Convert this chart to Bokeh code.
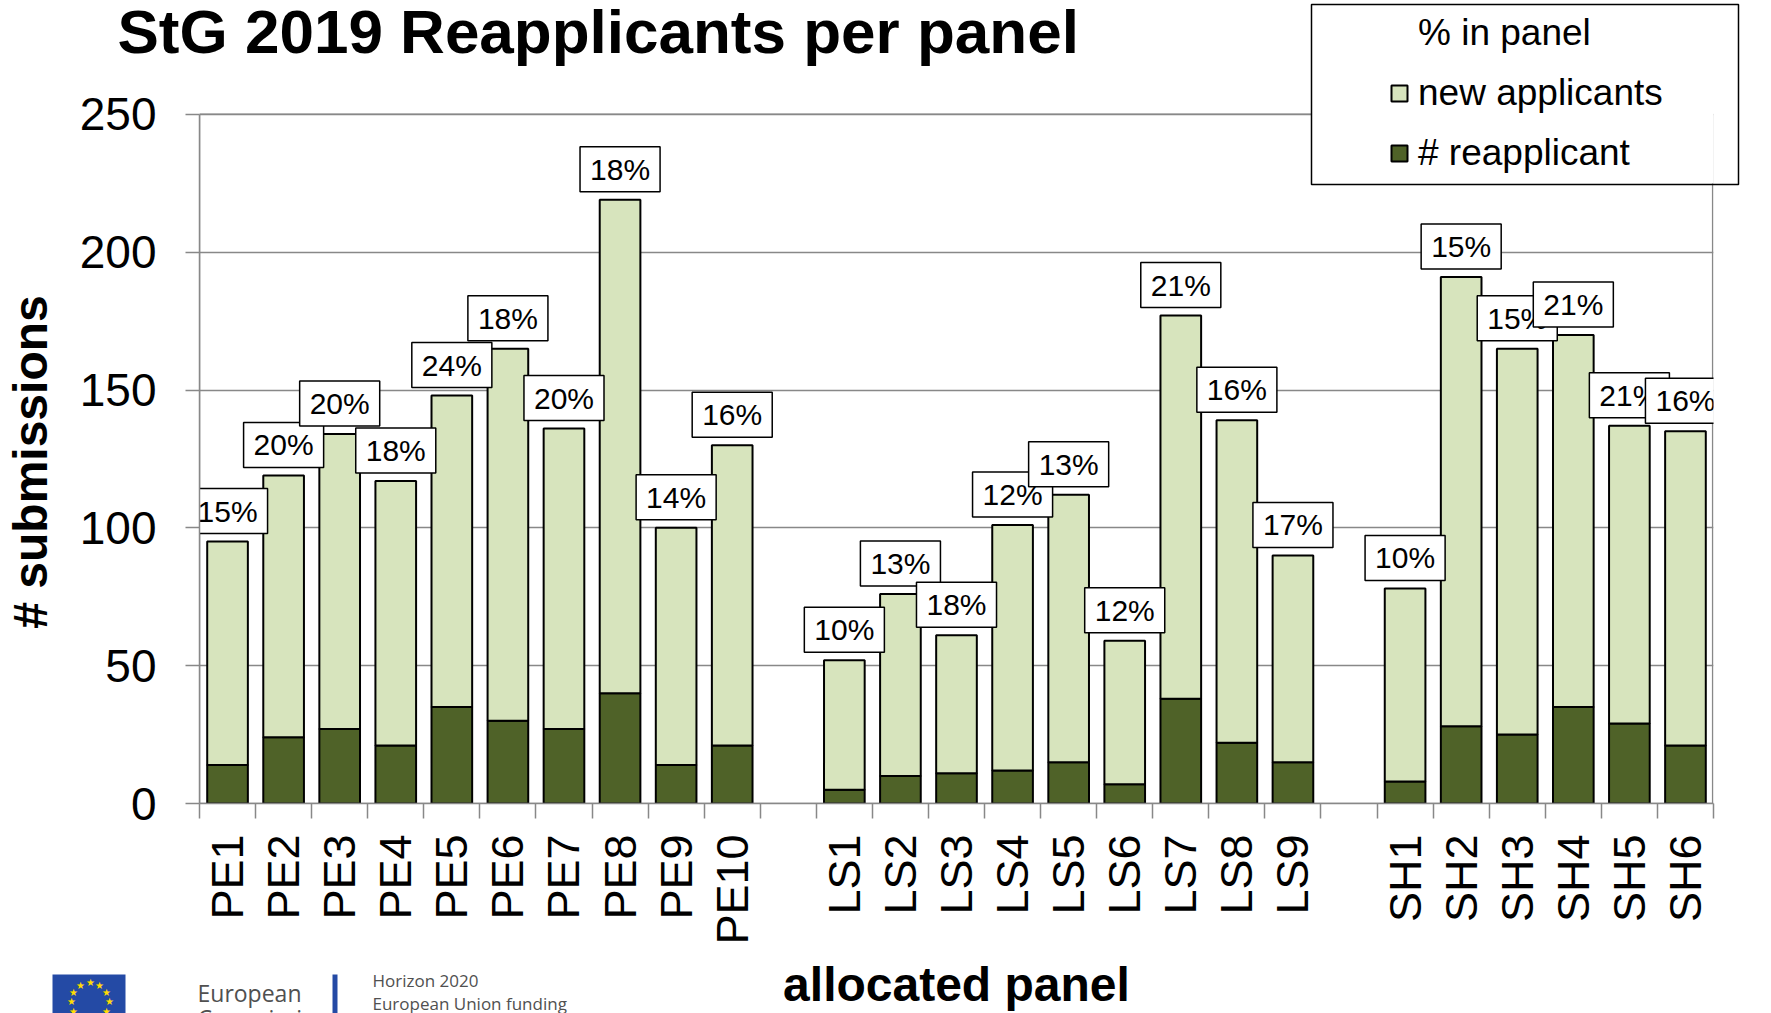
import math
from bokeh.plotting import figure
from bokeh.layouts import column
from bokeh.models import (ColumnDataSource, FactorRange, Range1d, LinearAxis, CategoricalAxis,
                          FixedTicker, Legend, LegendItem, Label, BoxAnnotation, GridBox)
from bokeh.core.properties import value
from bokeh.transform import stack
from bokeh.embed import file_html
from bokeh.resources import INLINE

# ---------------- data ----------------
panels_pe = ["PE1", "PE2", "PE3", "PE4", "PE5", "PE6", "PE7", "PE8", "PE9", "PE10"]
panels_ls = ["LS1", "LS2", "LS3", "LS4", "LS5", "LS6", "LS7", "LS8", "LS9"]
panels_sh = ["SH1", "SH2", "SH3", "SH4", "SH5", "SH6"]

reapplicants = [14, 24, 27, 21, 35, 30, 27, 40, 14, 21,
                5, 10, 11, 12, 15, 7, 38, 22, 15,
                8, 28, 25, 35, 29, 21]
new_applicants = [81, 95, 107, 96, 113, 135, 109, 179, 86, 109,
                  47, 66, 50, 89, 97, 52, 139, 117, 75,
                  70, 163, 140, 135, 108, 114]
pct_in_panel = ["15%", "20%", "20%", "18%", "24%", "18%", "20%", "18%", "14%", "16%",
                "10%", "13%", "18%", "12%", "13%", "12%", "21%", "16%", "17%",
                "10%", "15%", "15%", "21%", "21%", "16%"]
y_ticks = [0, 50, 100, 150, 200, 250]

panels = panels_pe + panels_ls + panels_sh
factors = panels_pe + [" "] + panels_ls + ["  "] + panels_sh

FONT = "Liberation Sans"
LIGHT = "#D7E4BD"
DARK = "#4F6228"
GRID = "#888888"
W, H = 1771, 1013
NBSP = "\u00a0"

src = ColumnDataSource(dict(panel=panels, reapp=reapplicants, new=new_applicants, pct=pct_in_panel))

# The frame reaches the top of the canvas so that the legend (which sits above the
# 250 line, as in the original) is not clipped; the axis itself stops at 250.
p = figure(x_range=FactorRange(factors=factors), y_range=Range1d(0, 291.3),
           width=W, height=H, output_backend="svg", toolbar_location=None,
           x_axis_location=None, title=None,
           min_border_left=199, min_border_right=58, min_border_top=0, min_border_bottom=209)
p.outline_line_color = None
p.background_fill_color = "white"
p.border_fill_color = "white"

# y axis
p.yaxis.ticker = FixedTicker(ticks=y_ticks)
p.yaxis.bounds = (y_ticks[0], y_ticks[-1])
p.yaxis.major_label_text_font = FONT
p.yaxis.major_label_text_font_size = "46px"
p.yaxis.major_label_text_color = "black"
p.yaxis.major_tick_out = 14
p.yaxis.major_tick_in = 0
p.yaxis.minor_tick_line_color = None
p.yaxis.axis_line_color = GRID
p.yaxis.axis_line_width = 1.5
p.yaxis.major_tick_line_color = GRID
p.yaxis.major_tick_line_width = 1.5
p.yaxis.major_label_standoff = 29
# trailing no-break spaces keep the label centred on the 0-250 axis, not on the taller frame
p.yaxis.axis_label = "# submissions" + NBSP * 9
p.yaxis.axis_label_text_font = FONT
p.yaxis.axis_label_text_font_size = "48px"
p.yaxis.axis_label_text_font_style = "bold"
p.yaxis.axis_label_text_color = "black"
p.yaxis.axis_label_standoff = 20

p.ygrid.grid_line_color = GRID
p.ygrid.grid_line_width = 1.5
p.xgrid.visible = False

# plot-area border (right edge; the top is the 250 grid line)
n_slots = len(factors)
p.add_layout(BoxAnnotation(left=0, right=n_slots - 0.015, bottom=y_ticks[0], top=y_ticks[-1],
                           fill_alpha=0, line_color=GRID, line_alpha=1.0, line_width=1.5,
                           level="underlay"))

# bars
rs = p.vbar_stack(["reapp", "new"], x="panel", width=0.725, color=[DARK, LIGHT],
                  line_color="black", line_width=2, source=src)

# percentage labels
p.text(x="panel", y=stack("reapp", "new"), text="pct", source=src,
       text_font=value(FONT), text_font_size="30px", text_color="black",
       text_align="center", text_baseline="bottom", y_offset=-8,
       background_fill_color="white", border_line_color="black", border_line_width=1.5,
       padding=(10, 6))

# tick marks at category boundaries (synthetic coordinates 0..n of the factor range)
tick_axis = LinearAxis(ticker=FixedTicker(ticks=list(range(n_slots + 1))),
                       major_tick_out=15, major_tick_in=0,
                       major_label_text_font_size="0px", major_label_standoff=0,
                       major_label_overrides={i: "" for i in range(n_slots + 1)},
                       axis_line_color=GRID, axis_line_width=1.5,
                       major_tick_line_color=GRID, major_tick_line_width=1.5,
                       minor_tick_line_color=None)
p.add_layout(tick_axis, "below")

cat_axis = CategoricalAxis(major_tick_out=0, major_tick_in=0, major_tick_line_color=None,
                           axis_line_color=None, major_label_orientation=math.pi / 2,
                           major_label_text_font=FONT, major_label_text_font_size="45px",
                           major_label_text_color="black", major_label_standoff=16,
                           axis_label="allocated panel", axis_label_text_font=FONT,
                           axis_label_text_font_size="48px", axis_label_text_font_style="bold",
                           axis_label_text_color="black", axis_label_standoff=10)
p.add_layout(cat_axis, "below")

# legend: white backing box + legend entries
p.add_layout(BoxAnnotation(left=1112, right=1539, bottom=620, top=800,
                           left_units="screen", right_units="screen",
                           bottom_units="screen", top_units="screen",
                           fill_color="white", fill_alpha=1.0, line_color=None))
legend = Legend(items=[LegendItem(label="% in panel", renderers=[]),
                       LegendItem(label="new applicants", renderers=[rs[1]]),
                       LegendItem(label="# reapplicant", renderers=[rs[0]])],
                location=(1190, 629), padding=0, margin=0,
                border_line_color=None, background_fill_alpha=0,
                label_text_font=FONT, label_text_font_size="37px", label_text_color="black",
                glyph_width=20, glyph_height=20, label_standoff=9,
                label_height=43, spacing=17)
p.add_layout(legend)

# ---------------- overlay: title, legend frame, footer logo ----------------
q = figure(width=W, height=H, x_range=Range1d(0, W), y_range=Range1d(0, H),
           output_backend="svg", toolbar_location=None, title=None,
           x_axis_location=None, y_axis_location=None, min_border=0)
q.outline_line_color = None
q.background_fill_color = None
q.border_fill_color = None
q.grid.visible = False

q.add_layout(Label(x=117, y=H - 31, x_units="screen", y_units="screen",
                   text="StG 2019 Reapplicants per panel", text_font=FONT,
                   text_font_size="62px", text_font_style="bold", text_color="black",
                   text_baseline="middle"))

q.add_layout(BoxAnnotation(left=1311, right=1738, bottom=H - 184, top=H - 4,
                           left_units="screen", right_units="screen",
                           bottom_units="screen", top_units="screen",
                           fill_alpha=0, line_color="black", line_alpha=1.0, line_width=1.5))

q.add_layout(BoxAnnotation(left=52, right=125, bottom=-5, top=39,
                           left_units="screen", right_units="screen",
                           bottom_units="screen", top_units="screen",
                           fill_color="#244AA5", fill_alpha=1.0, line_color=None))
for k in range(12):
    a = math.radians(90 - 30 * k)
    q.add_layout(Label(x=89.5 + 19 * math.cos(a), y=12 + 19 * math.sin(a),
                       x_units="screen", y_units="screen", text="★",
                       text_color="#FFDD00", text_font_size="10px",
                       text_align="center", text_baseline="middle"))
q.add_layout(BoxAnnotation(left=332, right=337, bottom=-5, top=39,
                           left_units="screen", right_units="screen",
                           bottom_units="screen", top_units="screen",
                           fill_color="#244AA5", fill_alpha=1.0, line_color=None))
for txt, x, y, size in [("European", 197, 21, "23px"), ("Commission", 197, -4, "23px"),
                        ("Horizon 2020", 372, 33, "17px"),
                        ("European Union funding", 372, 10, "17px"),
                        ("for Research & Innovation", 372, -10, "17px")]:
    q.add_layout(Label(x=x, y=y, x_units="screen", y_units="screen", text=txt,
                       text_font="Open Sans", text_font_size=size,
                       text_color="#505050", text_baseline="middle"))

# overlay q on top of p (same grid cell); wrapping keeps their frames independent
layout = GridBox(children=[(column(p), 0, 0), (column(q), 0, 0)])
open("out.html", "w").write(file_html(layout, INLINE))
